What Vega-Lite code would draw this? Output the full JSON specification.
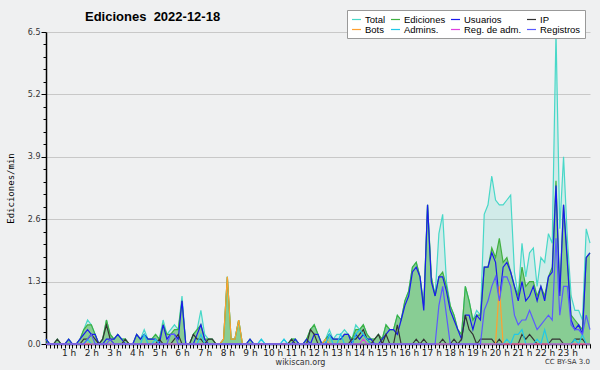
{
"$schema":"https://vega.github.io/schema/vega-lite/v6.json",
"width":544,"height":312,
"autosize":{"type":"none"},
"padding":{"left":46,"top":32,"right":10,"bottom":26},
"background":"#eff0f1",
"title":{"text":"Ediciones\u00a0 2022-12-18","anchor":"start","frame":"group","dx":39,"offset":-24,"baseline":"alphabetic","font":"Liberation Sans","fontSize":13,"fontWeight":"bold","color":"#000"},
"config":{"view":{"stroke":null},"axis":{"labelFont":"DejaVu Sans","titleFont":"DejaVu Sans"}},
"data":{"values":[
{"t":0,"Total":0.1,"Ediciones":0.1,"Usuarios":0.1,"IP":0,"Bots":0,"Admins":0,"RegAdm":0,"Registros":0},
{"t":10,"Total":0,"Ediciones":0,"Usuarios":0,"IP":0,"Bots":0,"Admins":0,"RegAdm":0,"Registros":0},
{"t":20,"Total":0,"Ediciones":0,"Usuarios":0,"IP":0,"Bots":0,"Admins":0,"RegAdm":0,"Registros":0},
{"t":30,"Total":0.1,"Ediciones":0.1,"Usuarios":0,"IP":0.1,"Bots":0,"Admins":0,"RegAdm":0,"Registros":0},
{"t":40,"Total":0,"Ediciones":0,"Usuarios":0,"IP":0,"Bots":0,"Admins":0,"RegAdm":0,"Registros":0},
{"t":50,"Total":0,"Ediciones":0,"Usuarios":0,"IP":0,"Bots":0,"Admins":0,"RegAdm":0,"Registros":0},
{"t":60,"Total":0.1,"Ediciones":0.1,"Usuarios":0.1,"IP":0,"Bots":0,"Admins":0,"RegAdm":0,"Registros":0},
{"t":70,"Total":0,"Ediciones":0,"Usuarios":0,"IP":0,"Bots":0,"Admins":0,"RegAdm":0,"Registros":0},
{"t":80,"Total":0,"Ediciones":0,"Usuarios":0,"IP":0,"Bots":0,"Admins":0,"RegAdm":0,"Registros":0},
{"t":90,"Total":0.1,"Ediciones":0.1,"Usuarios":0.1,"IP":0,"Bots":0,"Admins":0,"RegAdm":0,"Registros":0},
{"t":100,"Total":0.3,"Ediciones":0.3,"Usuarios":0.2,"IP":0.1,"Bots":0,"Admins":0,"RegAdm":0,"Registros":0},
{"t":110,"Total":0.5,"Ediciones":0.4,"Usuarios":0.3,"IP":0.1,"Bots":0,"Admins":0.1,"RegAdm":0,"Registros":0.1},
{"t":120,"Total":0.4,"Ediciones":0.4,"Usuarios":0.2,"IP":0.2,"Bots":0,"Admins":0,"RegAdm":0,"Registros":0.2},
{"t":130,"Total":0.2,"Ediciones":0.2,"Usuarios":0.2,"IP":0.1,"Bots":0,"Admins":0,"RegAdm":0,"Registros":0},
{"t":140,"Total":0,"Ediciones":0,"Usuarios":0,"IP":0,"Bots":0,"Admins":0,"RegAdm":0,"Registros":0},
{"t":150,"Total":0.1,"Ediciones":0.1,"Usuarios":0,"IP":0.1,"Bots":0,"Admins":0,"RegAdm":0,"Registros":0},
{"t":160,"Total":0.5,"Ediciones":0.5,"Usuarios":0.1,"IP":0.4,"Bots":0,"Admins":0,"RegAdm":0,"Registros":0},
{"t":170,"Total":0.2,"Ediciones":0.2,"Usuarios":0.1,"IP":0.1,"Bots":0,"Admins":0,"RegAdm":0,"Registros":0.1},
{"t":180,"Total":0.1,"Ediciones":0.1,"Usuarios":0.1,"IP":0,"Bots":0,"Admins":0,"RegAdm":0,"Registros":0},
{"t":190,"Total":0.2,"Ediciones":0.2,"Usuarios":0.2,"IP":0,"Bots":0,"Admins":0,"RegAdm":0,"Registros":0},
{"t":200,"Total":0.1,"Ediciones":0.1,"Usuarios":0.1,"IP":0,"Bots":0,"Admins":0,"RegAdm":0,"Registros":0},
{"t":210,"Total":0.1,"Ediciones":0.1,"Usuarios":0,"IP":0.1,"Bots":0,"Admins":0,"RegAdm":0,"Registros":0},
{"t":220,"Total":0,"Ediciones":0,"Usuarios":0,"IP":0,"Bots":0,"Admins":0,"RegAdm":0,"Registros":0},
{"t":230,"Total":0,"Ediciones":0,"Usuarios":0,"IP":0,"Bots":0,"Admins":0,"RegAdm":0,"Registros":0},
{"t":240,"Total":0.2,"Ediciones":0.2,"Usuarios":0.2,"IP":0,"Bots":0,"Admins":0,"RegAdm":0,"Registros":0},
{"t":250,"Total":0.1,"Ediciones":0.1,"Usuarios":0.1,"IP":0,"Bots":0,"Admins":0,"RegAdm":0,"Registros":0},
{"t":260,"Total":0.3,"Ediciones":0.2,"Usuarios":0.2,"IP":0,"Bots":0,"Admins":0.2,"RegAdm":0,"Registros":0},
{"t":270,"Total":0.1,"Ediciones":0.1,"Usuarios":0.1,"IP":0,"Bots":0,"Admins":0,"RegAdm":0,"Registros":0},
{"t":280,"Total":0.1,"Ediciones":0.1,"Usuarios":0.1,"IP":0,"Bots":0,"Admins":0,"RegAdm":0,"Registros":0},
{"t":290,"Total":0.2,"Ediciones":0.2,"Usuarios":0.1,"IP":0,"Bots":0,"Admins":0.1,"RegAdm":0,"Registros":0},
{"t":300,"Total":0.1,"Ediciones":0.1,"Usuarios":0,"IP":0.1,"Bots":0,"Admins":0,"RegAdm":0,"Registros":0},
{"t":310,"Total":0.5,"Ediciones":0.4,"Usuarios":0.4,"IP":0,"Bots":0,"Admins":0,"RegAdm":0,"Registros":0},
{"t":320,"Total":0.2,"Ediciones":0.2,"Usuarios":0.1,"IP":0,"Bots":0,"Admins":0,"RegAdm":0,"Registros":0},
{"t":330,"Total":0.3,"Ediciones":0.2,"Usuarios":0.2,"IP":0,"Bots":0,"Admins":0,"RegAdm":0,"Registros":0.2},
{"t":340,"Total":0.4,"Ediciones":0.3,"Usuarios":0.2,"IP":0.1,"Bots":0,"Admins":0,"RegAdm":0,"Registros":0.2},
{"t":350,"Total":0.3,"Ediciones":0.3,"Usuarios":0.1,"IP":0.2,"Bots":0,"Admins":0,"RegAdm":0,"Registros":0},
{"t":360,"Total":1.0,"Ediciones":0.9,"Usuarios":0.9,"IP":0,"Bots":0,"Admins":0,"RegAdm":0,"Registros":0},
{"t":370,"Total":0,"Ediciones":0,"Usuarios":0,"IP":0,"Bots":0,"Admins":0,"RegAdm":0,"Registros":0},
{"t":380,"Total":0,"Ediciones":0,"Usuarios":0,"IP":0,"Bots":0,"Admins":0,"RegAdm":0,"Registros":0},
{"t":390,"Total":0.2,"Ediciones":0.2,"Usuarios":0,"IP":0.2,"Bots":0,"Admins":0,"RegAdm":0,"Registros":0},
{"t":400,"Total":0.3,"Ediciones":0.3,"Usuarios":0.2,"IP":0.1,"Bots":0,"Admins":0,"RegAdm":0,"Registros":0},
{"t":410,"Total":0.7,"Ediciones":0.4,"Usuarios":0.4,"IP":0.1,"Bots":0,"Admins":0.2,"RegAdm":0,"Registros":0},
{"t":420,"Total":0.2,"Ediciones":0.1,"Usuarios":0.1,"IP":0,"Bots":0,"Admins":0,"RegAdm":0,"Registros":0},
{"t":430,"Total":0.1,"Ediciones":0.1,"Usuarios":0,"IP":0.1,"Bots":0,"Admins":0,"RegAdm":0,"Registros":0},
{"t":440,"Total":0.1,"Ediciones":0.1,"Usuarios":0,"IP":0.1,"Bots":0,"Admins":0,"RegAdm":0,"Registros":0},
{"t":450,"Total":0,"Ediciones":0,"Usuarios":0,"IP":0,"Bots":0,"Admins":0,"RegAdm":0,"Registros":0},
{"t":460,"Total":0,"Ediciones":0,"Usuarios":0,"IP":0,"Bots":0,"Admins":0,"RegAdm":0,"Registros":0},
{"t":470,"Total":0.1,"Ediciones":0.1,"Usuarios":0,"IP":0,"Bots":0.1,"Admins":0,"RegAdm":0,"Registros":0},
{"t":480,"Total":1.4,"Ediciones":1.4,"Usuarios":0,"IP":0,"Bots":1.4,"Admins":0,"RegAdm":0,"Registros":0},
{"t":490,"Total":0.1,"Ediciones":0.1,"Usuarios":0,"IP":0,"Bots":0.1,"Admins":0,"RegAdm":0,"Registros":0},
{"t":500,"Total":0.1,"Ediciones":0.1,"Usuarios":0,"IP":0,"Bots":0.1,"Admins":0,"RegAdm":0,"Registros":0},
{"t":510,"Total":0.5,"Ediciones":0.5,"Usuarios":0,"IP":0,"Bots":0.5,"Admins":0,"RegAdm":0,"Registros":0},
{"t":520,"Total":0,"Ediciones":0,"Usuarios":0,"IP":0,"Bots":0,"Admins":0,"RegAdm":0,"Registros":0},
{"t":530,"Total":0,"Ediciones":0,"Usuarios":0,"IP":0,"Bots":0,"Admins":0,"RegAdm":0,"Registros":0},
{"t":540,"Total":0.1,"Ediciones":0.1,"Usuarios":0.1,"IP":0,"Bots":0,"Admins":0,"RegAdm":0,"Registros":0},
{"t":550,"Total":0,"Ediciones":0,"Usuarios":0,"IP":0,"Bots":0,"Admins":0,"RegAdm":0,"Registros":0},
{"t":560,"Total":0,"Ediciones":0,"Usuarios":0,"IP":0,"Bots":0,"Admins":0,"RegAdm":0,"Registros":0},
{"t":570,"Total":0.1,"Ediciones":0,"Usuarios":0,"IP":0,"Bots":0,"Admins":0.1,"RegAdm":0,"Registros":0},
{"t":580,"Total":0,"Ediciones":0,"Usuarios":0,"IP":0,"Bots":0,"Admins":0,"RegAdm":0,"Registros":0},
{"t":590,"Total":0,"Ediciones":0,"Usuarios":0,"IP":0,"Bots":0,"Admins":0,"RegAdm":0,"Registros":0},
{"t":600,"Total":0,"Ediciones":0,"Usuarios":0,"IP":0,"Bots":0,"Admins":0,"RegAdm":0,"Registros":0},
{"t":610,"Total":0,"Ediciones":0,"Usuarios":0,"IP":0,"Bots":0,"Admins":0,"RegAdm":0,"Registros":0},
{"t":620,"Total":0,"Ediciones":0,"Usuarios":0,"IP":0,"Bots":0,"Admins":0,"RegAdm":0,"Registros":0},
{"t":630,"Total":0.1,"Ediciones":0,"Usuarios":0,"IP":0,"Bots":0,"Admins":0.1,"RegAdm":0,"Registros":0},
{"t":640,"Total":0,"Ediciones":0,"Usuarios":0,"IP":0,"Bots":0,"Admins":0,"RegAdm":0,"Registros":0},
{"t":650,"Total":0.1,"Ediciones":0.1,"Usuarios":0,"IP":0.1,"Bots":0,"Admins":0,"RegAdm":0,"Registros":0},
{"t":660,"Total":0.1,"Ediciones":0.1,"Usuarios":0.1,"IP":0,"Bots":0,"Admins":0,"RegAdm":0,"Registros":0},
{"t":670,"Total":0,"Ediciones":0,"Usuarios":0,"IP":0,"Bots":0,"Admins":0,"RegAdm":0,"Registros":0},
{"t":680,"Total":0,"Ediciones":0,"Usuarios":0,"IP":0,"Bots":0,"Admins":0,"RegAdm":0,"Registros":0},
{"t":690,"Total":0.1,"Ediciones":0.1,"Usuarios":0.1,"IP":0,"Bots":0,"Admins":0,"RegAdm":0,"Registros":0},
{"t":700,"Total":0.3,"Ediciones":0.3,"Usuarios":0,"IP":0.3,"Bots":0,"Admins":0,"RegAdm":0,"Registros":0},
{"t":710,"Total":0.4,"Ediciones":0.4,"Usuarios":0.2,"IP":0.2,"Bots":0,"Admins":0,"RegAdm":0,"Registros":0},
{"t":720,"Total":0.2,"Ediciones":0.2,"Usuarios":0.2,"IP":0,"Bots":0,"Admins":0,"RegAdm":0,"Registros":0},
{"t":730,"Total":0,"Ediciones":0,"Usuarios":0,"IP":0,"Bots":0,"Admins":0,"RegAdm":0,"Registros":0},
{"t":740,"Total":0.1,"Ediciones":0.1,"Usuarios":0,"IP":0,"Bots":0.1,"Admins":0,"RegAdm":0,"Registros":0},
{"t":750,"Total":0.3,"Ediciones":0.2,"Usuarios":0.2,"IP":0,"Bots":0,"Admins":0.2,"RegAdm":0,"Registros":0},
{"t":760,"Total":0.1,"Ediciones":0.1,"Usuarios":0.1,"IP":0,"Bots":0,"Admins":0,"RegAdm":0,"Registros":0},
{"t":770,"Total":0.2,"Ediciones":0.1,"Usuarios":0.1,"IP":0,"Bots":0,"Admins":0,"RegAdm":0,"Registros":0},
{"t":780,"Total":0.2,"Ediciones":0.1,"Usuarios":0.1,"IP":0,"Bots":0,"Admins":0.2,"RegAdm":0,"Registros":0},
{"t":790,"Total":0.3,"Ediciones":0.2,"Usuarios":0.2,"IP":0,"Bots":0,"Admins":0,"RegAdm":0,"Registros":0},
{"t":800,"Total":0.2,"Ediciones":0.2,"Usuarios":0.2,"IP":0,"Bots":0,"Admins":0,"RegAdm":0,"Registros":0},
{"t":810,"Total":0.1,"Ediciones":0.1,"Usuarios":0,"IP":0.1,"Bots":0,"Admins":0,"RegAdm":0,"Registros":0},
{"t":820,"Total":0.4,"Ediciones":0.3,"Usuarios":0.2,"IP":0.1,"Bots":0,"Admins":0.2,"RegAdm":0,"Registros":0},
{"t":830,"Total":0.3,"Ediciones":0.3,"Usuarios":0.1,"IP":0.2,"Bots":0,"Admins":0.3,"RegAdm":0,"Registros":0},
{"t":840,"Total":0.4,"Ediciones":0.4,"Usuarios":0.2,"IP":0.3,"Bots":0,"Admins":0.2,"RegAdm":0.1,"Registros":0},
{"t":850,"Total":0.2,"Ediciones":0.2,"Usuarios":0.1,"IP":0.1,"Bots":0,"Admins":0.1,"RegAdm":0,"Registros":0},
{"t":860,"Total":0.1,"Ediciones":0.1,"Usuarios":0.1,"IP":0,"Bots":0,"Admins":0,"RegAdm":0,"Registros":0},
{"t":870,"Total":0.1,"Ediciones":0.1,"Usuarios":0,"IP":0.1,"Bots":0,"Admins":0,"RegAdm":0,"Registros":0},
{"t":880,"Total":0.2,"Ediciones":0.2,"Usuarios":0,"IP":0.2,"Bots":0,"Admins":0,"RegAdm":0,"Registros":0},
{"t":890,"Total":0.1,"Ediciones":0.1,"Usuarios":0.1,"IP":0,"Bots":0,"Admins":0,"RegAdm":0,"Registros":0},
{"t":900,"Total":0.4,"Ediciones":0.4,"Usuarios":0.2,"IP":0.2,"Bots":0,"Admins":0,"RegAdm":0,"Registros":0},
{"t":910,"Total":0.3,"Ediciones":0.3,"Usuarios":0.3,"IP":0,"Bots":0,"Admins":0,"RegAdm":0,"Registros":0},
{"t":920,"Total":0.3,"Ediciones":0.3,"Usuarios":0.3,"IP":0,"Bots":0,"Admins":0,"RegAdm":0,"Registros":0},
{"t":930,"Total":0.6,"Ediciones":0.6,"Usuarios":0.2,"IP":0.4,"Bots":0,"Admins":0,"RegAdm":0,"Registros":0},
{"t":940,"Total":0.5,"Ediciones":0.5,"Usuarios":0.5,"IP":0,"Bots":0,"Admins":0,"RegAdm":0,"Registros":0},
{"t":950,"Total":0.9,"Ediciones":0.9,"Usuarios":0.8,"IP":0,"Bots":0,"Admins":0,"RegAdm":0,"Registros":0},
{"t":960,"Total":1.1,"Ediciones":1.1,"Usuarios":1.0,"IP":0,"Bots":0,"Admins":0,"RegAdm":0,"Registros":0},
{"t":970,"Total":1.6,"Ediciones":1.6,"Usuarios":1.5,"IP":0,"Bots":0,"Admins":0,"RegAdm":0,"Registros":0},
{"t":980,"Total":1.7,"Ediciones":1.7,"Usuarios":1.6,"IP":0.1,"Bots":0,"Admins":0,"RegAdm":0,"Registros":0},
{"t":990,"Total":1.4,"Ediciones":1.4,"Usuarios":1.4,"IP":0,"Bots":0,"Admins":0,"RegAdm":0,"Registros":0},
{"t":1000,"Total":0.8,"Ediciones":0.8,"Usuarios":0.7,"IP":0.1,"Bots":0,"Admins":0,"RegAdm":0,"Registros":0},
{"t":1010,"Total":2.9,"Ediciones":2.9,"Usuarios":2.9,"IP":0,"Bots":0,"Admins":0,"RegAdm":0,"Registros":0},
{"t":1020,"Total":1.4,"Ediciones":1.4,"Usuarios":1.3,"IP":0,"Bots":0,"Admins":0,"RegAdm":0,"Registros":0},
{"t":1030,"Total":1.0,"Ediciones":1.0,"Usuarios":1.0,"IP":0,"Bots":0,"Admins":0,"RegAdm":0,"Registros":0},
{"t":1040,"Total":2.3,"Ediciones":1.4,"Usuarios":1.4,"IP":0,"Bots":0,"Admins":0,"RegAdm":0,"Registros":0.8},
{"t":1050,"Total":2.7,"Ediciones":1.5,"Usuarios":1.4,"IP":0.1,"Bots":0,"Admins":0,"RegAdm":0,"Registros":1.2},
{"t":1060,"Total":1.3,"Ediciones":1.2,"Usuarios":1.1,"IP":0,"Bots":0,"Admins":0,"RegAdm":0,"Registros":0.6},
{"t":1070,"Total":0.8,"Ediciones":0.8,"Usuarios":0.7,"IP":0,"Bots":0,"Admins":0,"RegAdm":0,"Registros":0},
{"t":1080,"Total":0.6,"Ediciones":0.6,"Usuarios":0.5,"IP":0.1,"Bots":0,"Admins":0,"RegAdm":0,"Registros":0},
{"t":1090,"Total":0.3,"Ediciones":0.3,"Usuarios":0.3,"IP":0,"Bots":0,"Admins":0,"RegAdm":0,"Registros":0},
{"t":1100,"Total":0.2,"Ediciones":0.2,"Usuarios":0.1,"IP":0.1,"Bots":0,"Admins":0,"RegAdm":0,"Registros":0},
{"t":1110,"Total":1.2,"Ediciones":1.2,"Usuarios":0.6,"IP":0.6,"Bots":0,"Admins":0,"RegAdm":0,"Registros":0},
{"t":1120,"Total":0.9,"Ediciones":0.9,"Usuarios":0.6,"IP":0.3,"Bots":0,"Admins":0,"RegAdm":0,"Registros":0},
{"t":1130,"Total":0.5,"Ediciones":0.5,"Usuarios":0.3,"IP":0.2,"Bots":0,"Admins":0,"RegAdm":0,"Registros":0},
{"t":1140,"Total":0.7,"Ediciones":0.6,"Usuarios":0.6,"IP":0,"Bots":0,"Admins":0,"RegAdm":0,"Registros":0},
{"t":1150,"Total":0.6,"Ediciones":0.6,"Usuarios":0.5,"IP":0.1,"Bots":0,"Admins":0,"RegAdm":0,"Registros":0},
{"t":1160,"Total":2.7,"Ediciones":1.6,"Usuarios":1.6,"IP":0.1,"Bots":0,"Admins":0,"RegAdm":0,"Registros":0.7},
{"t":1170,"Total":2.9,"Ediciones":1.6,"Usuarios":1.6,"IP":0.1,"Bots":0,"Admins":0,"RegAdm":0,"Registros":0.9},
{"t":1180,"Total":3.5,"Ediciones":2.0,"Usuarios":1.9,"IP":0.1,"Bots":0,"Admins":0,"RegAdm":0,"Registros":1.2},
{"t":1190,"Total":3.0,"Ediciones":1.8,"Usuarios":1.7,"IP":0,"Bots":0,"Admins":0,"RegAdm":0,"Registros":1.4},
{"t":1200,"Total":2.9,"Ediciones":2.2,"Usuarios":0.9,"IP":0.1,"Bots":1.2,"Admins":0,"RegAdm":0,"Registros":0.9},
{"t":1210,"Total":2.9,"Ediciones":1.7,"Usuarios":1.6,"IP":0,"Bots":0,"Admins":0,"RegAdm":0,"Registros":1.4},
{"t":1220,"Total":3.0,"Ediciones":1.8,"Usuarios":1.7,"IP":0,"Bots":0,"Admins":0.1,"RegAdm":0,"Registros":1.4},
{"t":1230,"Total":3.1,"Ediciones":1.5,"Usuarios":1.5,"IP":0,"Bots":0,"Admins":0,"RegAdm":0,"Registros":1.2},
{"t":1240,"Total":1.5,"Ediciones":1.2,"Usuarios":1.2,"IP":0,"Bots":0,"Admins":0.2,"RegAdm":0,"Registros":0.6},
{"t":1250,"Total":1.0,"Ediciones":1.0,"Usuarios":0.9,"IP":0,"Bots":0,"Admins":0.2,"RegAdm":0,"Registros":0.4},
{"t":1260,"Total":2.1,"Ediciones":1.6,"Usuarios":1.3,"IP":0.2,"Bots":0,"Admins":0.3,"RegAdm":0,"Registros":0.5},
{"t":1270,"Total":1.4,"Ediciones":1.2,"Usuarios":0.9,"IP":0.1,"Bots":0,"Admins":0,"RegAdm":0,"Registros":0.5},
{"t":1280,"Total":1.9,"Ediciones":1.3,"Usuarios":1.0,"IP":0.2,"Bots":0,"Admins":0,"RegAdm":0,"Registros":0.7},
{"t":1290,"Total":2.0,"Ediciones":1.3,"Usuarios":1.2,"IP":0.1,"Bots":0,"Admins":0,"RegAdm":0,"Registros":0.5},
{"t":1300,"Total":1.2,"Ediciones":1.0,"Usuarios":0.9,"IP":0,"Bots":0,"Admins":0.1,"RegAdm":0,"Registros":0.3},
{"t":1310,"Total":1.8,"Ediciones":1.2,"Usuarios":1.2,"IP":0,"Bots":0,"Admins":0,"RegAdm":0,"Registros":0.4},
{"t":1320,"Total":1.7,"Ediciones":1.0,"Usuarios":0.9,"IP":0,"Bots":0,"Admins":0.3,"RegAdm":0,"Registros":0.5},
{"t":1330,"Total":2.3,"Ediciones":1.4,"Usuarios":1.4,"IP":0,"Bots":0,"Admins":0,"RegAdm":0,"Registros":0.6},
{"t":1340,"Total":2.1,"Ediciones":1.6,"Usuarios":1.5,"IP":0.1,"Bots":0,"Admins":0,"RegAdm":0,"Registros":0.5},
{"t":1350,"Total":6.5,"Ediciones":3.4,"Usuarios":3.3,"IP":0.1,"Bots":0,"Admins":0,"RegAdm":0,"Registros":2.2},
{"t":1360,"Total":2.4,"Ediciones":1.1,"Usuarios":1.0,"IP":0.1,"Bots":0,"Admins":0,"RegAdm":0,"Registros":0.6},
{"t":1370,"Total":3.9,"Ediciones":2.9,"Usuarios":2.9,"IP":0,"Bots":0,"Admins":0,"RegAdm":0,"Registros":1.2},
{"t":1380,"Total":2.2,"Ediciones":1.8,"Usuarios":1.7,"IP":0,"Bots":0,"Admins":0,"RegAdm":0,"Registros":1.2},
{"t":1390,"Total":1.0,"Ediciones":0.6,"Usuarios":0.5,"IP":0,"Bots":0,"Admins":0,"RegAdm":0,"Registros":0.4},
{"t":1400,"Total":0.7,"Ediciones":0.5,"Usuarios":0.3,"IP":0.1,"Bots":0,"Admins":0.1,"RegAdm":0,"Registros":0.3},
{"t":1410,"Total":0.7,"Ediciones":0.4,"Usuarios":0.4,"IP":0.1,"Bots":0,"Admins":0,"RegAdm":0,"Registros":0.3},
{"t":1420,"Total":0.5,"Ediciones":0.3,"Usuarios":0.2,"IP":0.1,"Bots":0,"Admins":0.2,"RegAdm":0,"Registros":0.2},
{"t":1430,"Total":2.4,"Ediciones":1.8,"Usuarios":1.8,"IP":0,"Bots":0,"Admins":0,"RegAdm":0,"Registros":0.6},
{"t":1440,"Total":2.1,"Ediciones":1.9,"Usuarios":1.9,"IP":0,"Bots":0,"Admins":0,"RegAdm":0,"Registros":0.3}
]},
"transform":[{"fold":["Total","Ediciones","Usuarios","IP","Bots","Admins","RegAdm","Registros"],"as":["serie","v"]}],
"resolve":{"axis":{"x":"independent","y":"independent"}},
"layer":[
{"transform":[{"filter":"datum.serie == 'Total'"}],
 "mark":{"type":"area","color":"#48d8c8","opacity":0.18},
 "encoding":{
  "x":{"field":"t","type":"quantitative","scale":{"domain":[0,1440],"nice":false},
   "axis":{"orient":"bottom","tickCount":144,"labels":false,"domain":false,"grid":false,"tickSize":4,"tickColor":"#000","title":null}},
  "y":{"field":"v","type":"quantitative","scale":{"domain":[0,6.5],"nice":false},
   "axis":{"orient":"left","values":[0.26,0.52,0.78,1.04,1.56,1.82,2.08,2.34,2.86,3.12,3.38,3.64,4.16,4.42,4.68,4.94,5.46,5.72,5.98,6.24],"labels":false,"domain":false,"grid":false,"tickSize":3,"tickColor":"#000","title":null}}}},
{"transform":[{"filter":"datum.serie == 'Ediciones'"}],
 "mark":{"type":"area","color":"#40b040","opacity":0.5},
 "encoding":{
  "x":{"field":"t","type":"quantitative","axis":null},
  "y":{"field":"v","type":"quantitative","axis":null}}},
{"mark":{"type":"line","strokeWidth":1.2},
 "encoding":{
  "x":{"field":"t","type":"quantitative",
   "axis":{"orient":"bottom","values":[60,120,180,240,300,360,420,480,540,600,660,720,780,840,900,960,1020,1080,1140,1200,1260,1320,1380],"labelExpr":"(datum.value/60) + ' h'","labelFontSize":9,"labelColor":"#222","labelPadding":0,"tickSize":4,"tickColor":"#000","domainColor":"#000","domainWidth":1.5,"grid":false,"title":"wikiscan.org","titleFontSize":8,"titleFontWeight":"normal","titleColor":"#333","titlePadding":1,"titleX":254}},
  "y":{"field":"v","type":"quantitative",
   "axis":{"orient":"left","values":[0,1.3,2.6,3.9,5.2,6.5],"format":".1f","labelFontSize":8,"labelColor":"#333","labelPadding":1,"tickSize":5,"tickColor":"#000","domainColor":"#000","domainWidth":1.5,"grid":true,"gridColor":"#c8c8c8","title":"Ediciones/min","titleFont":"DejaVu Sans Mono","titleFontSize":9,"titleFontWeight":"normal","titleColor":"#000","titlePadding":12}},
  "color":{"field":"serie","type":"nominal",
   "scale":{"domain":["Total","Ediciones","Usuarios","IP","Bots","Admins","RegAdm","Registros"],"range":["#48d8c8","#40b040","#1a1aee","#333333","#ffa030","#20c8e8","#e040e0","#5a5aff"]},
   "legend":{"orient":"none","legendX":301,"legendY":-22,"columns":4,"direction":"horizontal","title":null,"symbolType":"stroke","symbolSize":81,"symbolStrokeWidth":1.2,"labelFont":"Liberation Sans","labelFontSize":9.5,"labelColor":"#000","fillColor":"#ffffff","strokeColor":"#999999","padding":4,"rowPadding":0,"columnPadding":2,"labelOffset":3,
    "labelExpr":"datum.label == 'RegAdm' ? 'Reg. de adm.' : (datum.label == 'Admins' ? 'Admins.' : datum.label)"}}}},
{"data":{"values":[{"label":"CC BY-SA 3.0"}]},
 "mark":{"type":"text","align":"right","baseline":"middle","font":"DejaVu Sans","fontSize":7,"color":"#333"},
 "encoding":{"x":{"datum":1440,"type":"quantitative","axis":null},"y":{"datum":-0.38,"type":"quantitative","axis":null},"text":{"field":"label"}}}
]
}
